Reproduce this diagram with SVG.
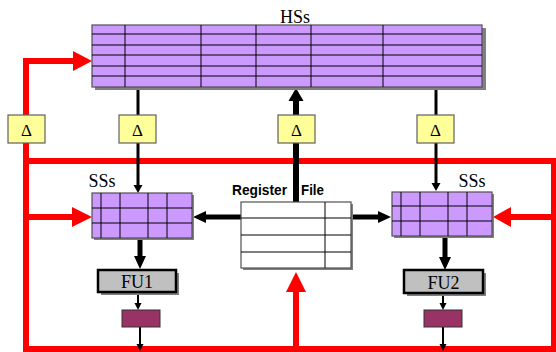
<svg xmlns="http://www.w3.org/2000/svg" width="556" height="352" viewBox="0 0 556 352">
  <style>
    .serif { font-family: "Liberation Serif", "Times New Roman", serif; fill: #000; }
    .sans { font-family: "Liberation Sans", Arial, sans-serif; font-weight: bold; fill: #000; }
    .shadow { fill: #808080; }
    .store { fill: #CC99FF; stroke: #505050; stroke-width: 1.2; }
    .grid { stroke: #000; stroke-width: 1; fill: none; }
    .delay { fill: #FFFF99; stroke: #606060; stroke-width: 1.2; }
    .fu { fill: #C0C0C0; stroke: #000; stroke-width: 2.5; }
    .latch { fill: #993366; stroke: #333; stroke-width: 1; }
    .red { stroke: #FF0000; stroke-width: 6; fill: none; }
    .redhead { fill: #FF0000; }
    .wire { stroke: #000; fill: none; }
    .head { fill: #000; }
  </style>

  <!-- feedback / bus connectors -->
  <g id="connectors">
    <!-- red feedback network -->
    <path class="red" d="M75,61 H26 V349 H554 V161 H26"/>
    <polygon class="redhead" points="73,51 92,61 73,71"/>
    <path class="red" d="M26,217 H74"/>
    <polygon class="redhead" points="72,207 92,217 72,227"/>
    <path class="red" d="M554,217 H510"/>
    <polygon class="redhead" points="511,207 493,217 511,227"/>
    <path class="red" d="M296,349 V290"/>
    <polygon class="redhead" points="286,292 296,272 306,292"/>

    <!-- HSs to SSs -->
    <path class="wire" stroke-width="3" d="M138,87 V186"/>
    <polygon class="head" points="133.5,185 138,193 142.5,185"/>
    <path class="wire" stroke-width="3" d="M436,87 V184"/>
    <polygon class="head" points="431.5,183 436,191 440.5,183"/>

    <!-- register file to HSs -->
    <path class="wire" stroke-width="6" d="M296,202 V98"/>
    <polygon class="head" points="288.5,101 296,88 303.5,101"/>

    <!-- register file to SSs -->
    <path class="wire" stroke-width="5" d="M241,217 H203"/>
    <polygon class="head" points="206,211 193,217 206,223"/>
    <path class="wire" stroke-width="5" d="M351,217 H380"/>
    <polygon class="head" points="378,211 391,217 378,223"/>

    <!-- SSs to FUs -->
    <path class="wire" stroke-width="5" d="M140,238 V258"/>
    <polygon class="head" points="134,256 140,269 146,256"/>
    <path class="wire" stroke-width="5" d="M445,236 V258"/>
    <polygon class="head" points="439,257 445,270 451,257"/>

    <!-- FUs to latches -->
    <path class="wire" stroke-width="2" d="M138,293 V304"/>
    <polygon class="head" points="134.5,303 138,310 141.5,303"/>
    <path class="wire" stroke-width="2" d="M443,294 V304"/>
    <polygon class="head" points="439.5,303 443,310 446.5,303"/>

    <!-- latches out -->
    <path class="wire" stroke-width="2" d="M140,327 V345"/>
    <polygon class="head" points="136.5,344 140,351 143.5,344"/>
    <path class="wire" stroke-width="2" d="M443,327 V345"/>
    <polygon class="head" points="439.5,344 443,351 446.5,344"/>
  </g>

  <!-- HSs -->
  <g id="hss">
    <rect class="shadow" x="95" y="28" width="391" height="62"/>
    <rect class="store" x="92" y="25" width="390" height="62"/>
    <path class="grid" d="M92,34 H482 M92,45 H482 M92,55 H482 M92,66 H482 M92,76 H482"/>
    <path class="grid" stroke="#303030" d="M125,25 V87 M201,25 V87 M256,25 V87 M311,25 V87 M383,25 V87"/>
    <text class="serif" x="295" y="23" font-size="18" text-anchor="middle">HSs</text>
  </g>

  <!-- delay elements -->
  <g id="delay1">
    <rect class="delay" x="8" y="115" width="37" height="28"/>
    <text class="serif" x="26.5" y="135.5" font-size="17" text-anchor="middle">Δ</text>
  </g>
  <g id="delay2">
    <rect class="delay" x="119" y="115" width="37" height="28"/>
    <text class="serif" x="137.5" y="135.5" font-size="17" text-anchor="middle">Δ</text>
  </g>
  <g id="delay3">
    <rect class="delay" x="278" y="115" width="37" height="28"/>
    <text class="serif" x="296.5" y="135.5" font-size="17" text-anchor="middle">Δ</text>
  </g>
  <g id="delay4">
    <rect class="delay" x="417" y="115" width="37" height="28"/>
    <text class="serif" x="435.5" y="135.5" font-size="17" text-anchor="middle">Δ</text>
  </g>

  <!-- left SSs -->
  <g id="ss-left">
    <rect class="shadow" x="94" y="195" width="100" height="45"/>
    <rect class="store" x="92" y="193" width="100" height="45"/>
    <path class="grid" d="M92,208 H192 M92,223 H192 M101,193 V238 M120,193 V238 M148,193 V238 M167,193 V238"/>
    <text class="serif" x="102" y="187" font-size="18" text-anchor="middle">SSs</text>
  </g>

  <!-- right SSs -->
  <g id="ss-right">
    <rect class="shadow" x="394" y="194" width="100" height="44"/>
    <rect class="store" x="392" y="192" width="100" height="44"/>
    <path class="grid" d="M392,206 H492 M392,221 H492 M401,192 V236 M420,192 V236 M448,192 V236 M467,192 V236"/>
    <text class="serif" x="472" y="187" font-size="18" text-anchor="middle">SSs</text>
  </g>

  <!-- register file -->
  <g id="register-file">
    <rect class="shadow" x="243" y="204" width="110" height="66"/>
    <rect x="241" y="202" width="110" height="66" fill="#FFFFFF" stroke="#505050" stroke-width="1.2"/>
    <path class="grid" d="M241,218 H351 M241,235 H351 M241,252 H351 M325,202 V268"/>
    <text class="sans" x="232" y="195" font-size="15" textLength="55" lengthAdjust="spacingAndGlyphs">Register</text>
    <text class="sans" x="301" y="195" font-size="15" textLength="23" lengthAdjust="spacingAndGlyphs">File</text>
  </g>

  <!-- functional units -->
  <g id="fu1">
    <rect class="shadow" x="101" y="273" width="78" height="22"/>
    <rect class="fu" x="98" y="270" width="78" height="22"/>
    <text class="serif" x="137" y="288" font-size="18" text-anchor="middle">FU1</text>
  </g>
  <g id="fu2">
    <rect class="shadow" x="407" y="273" width="79" height="23"/>
    <rect class="fu" x="404" y="270" width="79" height="23"/>
    <text class="serif" x="443.5" y="289" font-size="18" text-anchor="middle">FU2</text>
  </g>

  <!-- pipeline latches -->
  <g id="latch1">
    <rect class="latch" x="122" y="310" width="38" height="17"/>
  </g>
  <g id="latch2">
    <rect class="latch" x="424" y="310" width="38" height="17"/>
  </g>
</svg>
